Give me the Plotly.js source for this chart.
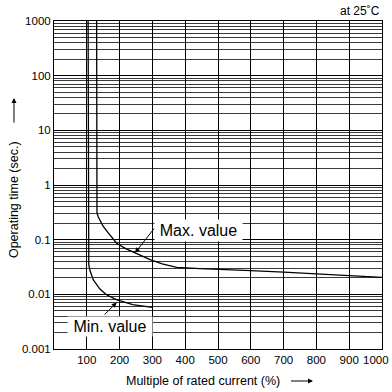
<!DOCTYPE html>
<html>
<head>
<meta charset="utf-8">
<script src="https://cdn.plot.ly/plotly-3.0.1.min.js"></script>
<style>html,body{margin:0;padding:0;background:#fff}#chart{width:392px;height:392px}</style>
</head>
<body>
<div id="chart"></div>
<script>
// Data
const minX = [104, 104, 105, 106, 110, 120, 140, 160, 190, 240, 300];
const minY = [1000, 0.1, 0.045, 0.035, 0.027, 0.0184, 0.0125, 0.0098, 0.008, 0.0065, 0.0058];
const maxX = [130, 130, 131, 135, 140, 150, 166, 191, 220, 247, 293, 330, 374, 445, 500, 600, 700, 800, 900, 1000];
const maxY = [1000, 0.4, 0.31, 0.26, 0.23, 0.175, 0.132, 0.086, 0.068, 0.057, 0.043, 0.036, 0.031, 0.0295, 0.0289, 0.0272, 0.0255, 0.0236, 0.0218, 0.0204];
const xTicks = [100, 200, 300, 400, 500, 600, 700, 800, 900, 1000];
const xTickText = ['100', '200', '300', '400', '500', '600', '700', '800', '900', '1000'];
const yTicks = [0.001, 0.01, 0.1, 1, 10, 100, 1000];
const yTickText = ['0.001', '0.01', '0.1', '1', '10', '100', '1000'];

const FONT = 'Liberation Sans, Arial, sans-serif';

const minorVals = [];
yTicks.slice(0, -1).forEach(d => { for (let k = 2; k <= 9; k++) minorVals.push(d * k); });

const traces = [
  {x: minX, y: minY, mode: 'lines', line: {color: '#000', width: 1.3}, hoverinfo: 'skip'},
  {x: maxX, y: maxY, mode: 'lines', line: {color: '#000', width: 1.3}, hoverinfo: 'skip'}
];

const lastX = xTicks[xTicks.length - 1];
const lastXText = xTickText[xTickText.length - 1];

const layout = {
  width: 392, height: 392,
  margin: {l: 54, r: 10, t: 21, b: 43},
  paper_bgcolor: '#fff', plot_bgcolor: '#fff',
  showlegend: false,
  font: {family: FONT, size: 11.5, color: '#000'},
  xaxis: {
    range: [0, 1000], tickmode: 'array', tickvals: xTicks, ticktext: xTickText,
    ticks: '', showgrid: true, gridcolor: '#000', gridwidth: 1,
    zeroline: false, showline: true, linecolor: '#000', linewidth: 1, mirror: true,
    tickfont: {family: FONT, size: 11.5, color: '#000'}
  },
  yaxis: {
    type: 'log', range: [-3, 3], tickmode: 'array', tickvals: yTicks, ticktext: yTickText,
    ticks: '', showgrid: true, gridcolor: '#000', gridwidth: 1,
    zeroline: false, showline: true, linecolor: '#000', linewidth: 1, mirror: true,
    tickfont: {family: FONT, size: 11.5, color: '#000'},
    minor: {tickmode: 'array', tickvals: minorVals, showgrid: true, gridcolor: '#3a3a3a', gridwidth: 1, ticks: ''}
  },
  annotations: [
    {xref: 'x', yref: 'paper', x: lastX, y: 0, yshift: -11, xshift: 9, text: lastXText, showarrow: false,
     font: {family: FONT, size: 11.5, color: '#000'}, xanchor: 'right', yanchor: 'middle'},
    {xref: 'paper', yref: 'paper', x: 0.453, y: -0.0976, text: 'Multiple of rated current (%)',
     showarrow: false, font: {family: FONT, size: 12.5, color: '#000'}, xanchor: 'center', yanchor: 'middle'},
    {xref: 'paper', yref: 'paper', x: 0.7896, y: -0.0976, text: ' ', showarrow: true,
     ax: -25, ay: 0, arrowhead: 2, arrowsize: 1, arrowwidth: 1, arrowcolor: '#000', standoff: 0, startstandoff: 0},
    {xref: 'paper', yref: 'paper', x: -0.122, y: 0.457, text: 'Operating time (sec.)', textangle: -90,
     showarrow: false, font: {family: FONT, size: 12.5, color: '#000'}, xanchor: 'center', yanchor: 'middle'},
    {xref: 'paper', yref: 'paper', x: -0.122, y: 0.765, text: ' ', showarrow: true,
     ax: 0, ay: 32, arrowhead: 2, arrowsize: 1, arrowwidth: 1, arrowcolor: '#000', standoff: 0, startstandoff: 0},
    {xref: 'paper', yref: 'paper', x: 1.0, y: 1.03, text: 'at 25˚C', showarrow: false,
     font: {family: FONT, size: 12, color: '#000'}, xanchor: 'right', yanchor: 'middle'},
    {xref: 'x', yref: 'y', x: 442, y: -0.839, text: 'Max. value', showarrow: false,
     font: {family: FONT, size: 16, color: '#000'}, bgcolor: '#fff', width: 87, height: 21,
     xanchor: 'center', yanchor: 'middle', borderpad: 0},
    {xref: 'x', yref: 'y', x: 171, y: -2.594, text: 'Min. value', showarrow: false,
     font: {family: FONT, size: 16, color: '#000'}, bgcolor: '#fff', width: 84, height: 19,
     xanchor: 'center', yanchor: 'middle', borderpad: 0},
    {xref: 'x', yref: 'y', x: 247, y: -1.241, text: ' ', showarrow: true,
     ax: 22, ay: -28, arrowhead: 2, arrowsize: 1, arrowwidth: 1, arrowcolor: '#000', standoff: 0, startstandoff: 0},
    {xref: 'x', yref: 'y', x: 191, y: -2.15, text: ' ', showarrow: true,
     ax: -15, ay: 15, arrowhead: 2, arrowsize: 1, arrowwidth: 1, arrowcolor: '#000', standoff: 0, startstandoff: 0}
  ]
};

Plotly.newPlot('chart', traces, layout, {staticPlot: true, displayModeBar: false});
</script>
</body>
</html>
